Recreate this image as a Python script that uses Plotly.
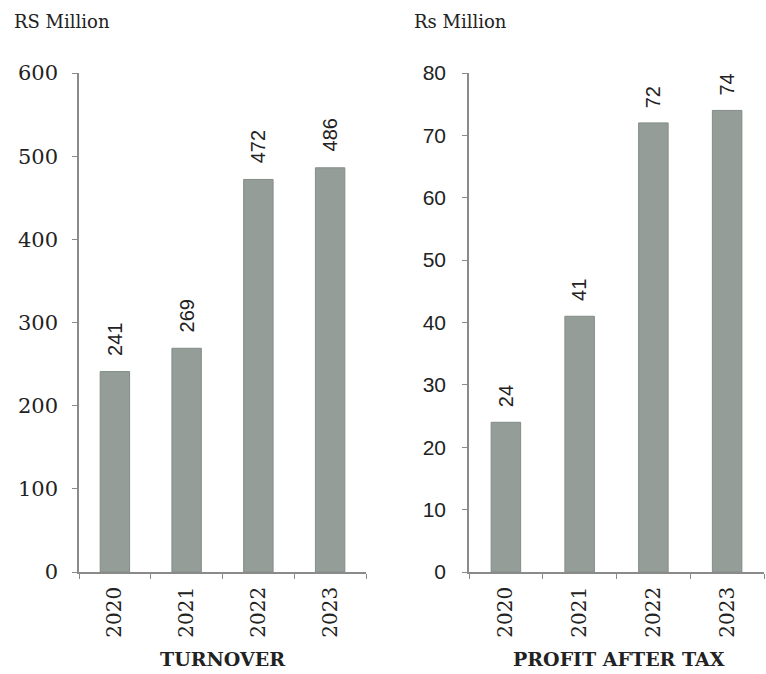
import plotly.graph_objects as go

years = ["2020", "2021", "2022", "2023"]
turnover = [241, 269, 472, 486]
profit = [24, 41, 72, 74]
left_ticks = [0, 100, 200, 300, 400, 500, 600]
right_ticks = [0, 10, 20, 30, 40, 50, 60, 70, 80]

W, H = 766, 674
BAR = "#949d98"
AX = "#8a8a8a"

def px_x(p): return p / W
def px_y(p): return 1 - p / H

fig = go.Figure()
fig.add_trace(go.Bar(x=years, y=turnover, marker=dict(color=BAR, line=dict(color="#838c87", width=1)),
                     width=0.41, xaxis="x", yaxis="y", showlegend=False, hoverinfo="skip"))
fig.add_trace(go.Bar(x=years, y=profit, marker=dict(color=BAR, line=dict(color="#838c87", width=1)),
                     width=0.40, xaxis="x2", yaxis="y2", showlegend=False, hoverinfo="skip"))

serif = "DejaVu Serif"
sans = "Liberation Sans"

xcommon = dict(type="category", categoryorder="array", categoryarray=years, range=[-0.5, 3.5],
               showline=True, linecolor=AX, linewidth=1.5, ticks="outside",
               tickson="boundaries", ticklen=5, tickcolor=AX, tickangle=-90,
               tickfont=dict(family=serif, size=20, color="#222"), showgrid=False,
               ticklabelstandoff=5, fixedrange=True, automargin=False)
ycommon = dict(showline=True, linecolor=AX, linewidth=1.5, ticks="outside", ticklen=5,
               tickcolor=AX, showgrid=False, zeroline=False, fixedrange=True, automargin=False)

fig.update_layout(
    width=W, height=H, margin=dict(l=0, r=0, t=0, b=0, autoexpand=False),
    plot_bgcolor="white", paper_bgcolor="white",
    xaxis=dict(domain=[px_x(79), px_x(366)], anchor="y", **xcommon),
    xaxis2=dict(domain=[px_x(469), px_x(764)], anchor="y2", **xcommon),
    yaxis=dict(domain=[px_y(572), px_y(73)], anchor="x", range=[0, 600], tickvals=left_ticks,
               tickfont=dict(family=serif, size=21, color="#222"), ticklabelstandoff=10, **ycommon),
    yaxis2=dict(domain=[px_y(572), px_y(73)], anchor="x2", range=[0, 80], tickvals=right_ticks,
                tickfont=dict(family=sans, size=21, color="#222"), ticklabelstandoff=12, **ycommon),
)

annotations = []
for i, v in enumerate(turnover):
    annotations.append(dict(x=i, y=v, xref="x", yref="y", text=str(v), textangle=-90,
                            showarrow=False, yanchor="bottom", yshift=14,
                            font=dict(family=sans, size=20, color="#222")))
for i, v in enumerate(profit):
    annotations.append(dict(x=i, y=v, xref="x2", yref="y2", text=str(v), textangle=-90,
                            showarrow=False, yanchor="bottom", yshift=13,
                            font=dict(family=sans, size=20, color="#222")))

annotations.append(dict(x=px_x(222), y=px_y(659), xref="paper", yref="paper", text="<b>TURNOVER</b>",
                        showarrow=False, xanchor="center", yanchor="middle",
                        font=dict(family=serif, size=19, color="#222")))
annotations.append(dict(x=px_x(619), y=px_y(659), xref="paper", yref="paper", text="<b>PROFIT AFTER TAX</b>",
                        showarrow=False, xanchor="center", yanchor="middle",
                        font=dict(family=serif, size=19, color="#222")))
annotations.append(dict(x=px_x(12), y=px_y(21), xref="paper", yref="paper", text="RS Million",
                        showarrow=False, xanchor="left", yanchor="middle",
                        font=dict(family=serif, size=18, color="#222")))
annotations.append(dict(x=px_x(412), y=px_y(21), xref="paper", yref="paper", text="Rs Million",
                        showarrow=False, xanchor="left", yanchor="middle",
                        font=dict(family=serif, size=18, color="#222")))
fig.update_layout(annotations=annotations)

fig.write_html("out.html")
